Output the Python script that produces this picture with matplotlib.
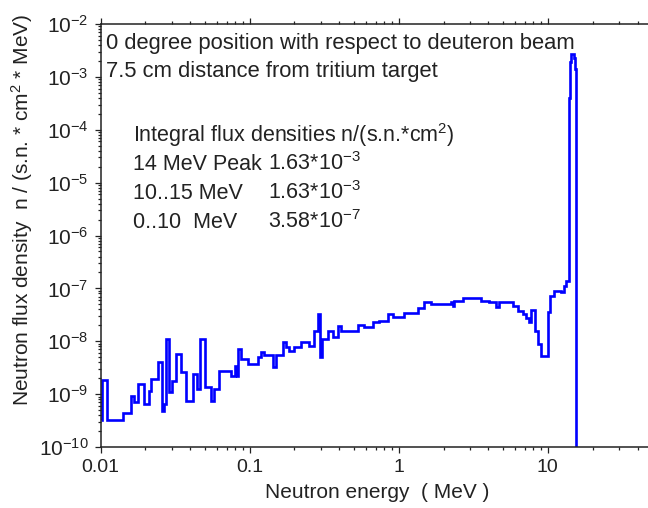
import numpy as np
import matplotlib
matplotlib.use('Agg')
import matplotlib.pyplot as plt
from matplotlib.ticker import FixedLocator, FixedFormatter, LogLocator, NullFormatter

plt.rcParams['font.family'] = ['Liberation Sans', 'DejaVu Sans']
plt.rcParams['mathtext.fontset'] = 'custom'
plt.rcParams['mathtext.rm'] = 'Liberation Sans'
plt.rcParams['mathtext.it'] = 'Liberation Sans:italic'
plt.rcParams['mathtext.bf'] = 'Liberation Sans:bold'

# --- bin edges (MeV) and flux per bin ---
energy_edges = [0.0101, 0.01031, 0.01114, 0.01405, 0.0159, 0.01666, 0.01771, 0.01944,
                0.0210, 0.02166, 0.02413, 0.02567, 0.02648, 0.02731, 0.02861, 0.02996,
                0.03188, 0.03443, 0.0372, 0.04145, 0.04409, 0.04618, 0.04989, 0.05474,
                0.05733, 0.06194, 0.07455, 0.07931, 0.0818, 0.08308, 0.08702, 0.09696,
                0.1132, 0.1185, 0.1242, 0.1427, 0.1495, 0.1665, 0.1744, 0.1827,
                0.1974, 0.2199, 0.2489, 0.2689, 0.2861, 0.2950, 0.3043, 0.3338,
                0.3606, 0.3897, 0.4081, 0.5306, 0.5823, 0.6693, 0.7343, 0.8438,
                0.9113, 1.080, 1.341, 1.472, 1.640, 2.234, 2.304, 2.340,
                2.689, 3.550, 4.018, 4.478, 4.690, 5.823, 6.290, 6.795,
                7.117, 7.455, 7.69, 8.18, 8.568, 8.975, 10.0, 10.31,
                10.97, 12.23, 12.81, 13.21, 13.83, 14.0, 14.3, 14.9, 15.25, 15.42, 15.6]

flux = [3.23e-10, 1.84e-9, 3.23e-10, 4.38e-10, 9.17e-10, 7.06e-10, 1.55e-9, 6.48e-10,
        1.14e-9, 1.92e-9, 4.02e-9, 4.78e-10, 6.48e-10, 1.09e-8, 1.09e-9, 1.76e-9,
        5.69e-9, 2.60e-9, 7.38e-10, 2.38e-9, 1.24e-9, 1.09e-8, 1.36e-9, 7.38e-10,
        1.24e-9, 2.72e-9, 2.19e-9, 3.37e-9, 2.19e-9, 7.06e-9, 4.57e-9, 3.68e-9,
        4.99e-9, 6.20e-9, 5.45e-9, 3.23e-9, 5.45e-9, 9.58e-9, 7.71e-9, 6.47e-9,
        7.71e-9, 9.58e-9, 8.05e-9, 1.55e-8, 3.23e-8, 4.99e-9, 1.09e-8, 1.55e-8,
        1.19e-8, 1.92e-8, 1.55e-8, 2.00e-8, 1.84e-8, 2.28e-8, 2.38e-8, 3.23e-8,
        2.84e-8, 3.37e-8, 4.19e-8, 5.45e-8, 4.99e-8, 5.45e-8, 4.57e-8, 5.69e-8,
        6.48e-8, 5.69e-8, 5.45e-8, 4.38e-8, 5.45e-8, 4.57e-8, 3.68e-8, 3.23e-8,
        2.72e-8, 2.28e-8, 3.85e-8, 1.55e-8, 8.77e-9, 5.21e-9, 3.52e-8, 7.06e-8,
        8.77e-8, 8.41e-8, 1.09e-7, 1.36e-7, 4.0e-4, 1.9e-3, 2.7e-3, 2.3e-3, 1.4e-3, 1e-12]

x_tick_vals = [0.01, 0.1, 1, 10]
x_tick_labels = ['0.01', '0.1', '1', '10']

header_lines = ['0 degree position with respect to deuteron beam',
                '7.5 cm distance from tritium target']
integral_title = r'Integral flux densities n/(s.n.*cm$^2$)'
range_names = ['14 MeV Peak', '10..15 MeV', '0..10  MeV']
range_values = [r'1.63*10$^{-3}$', r'1.63*10$^{-3}$', r'3.58*10$^{-7}$']

W, H = 648, 508
fig = plt.figure(figsize=(W / 100, H / 100), dpi=100, facecolor='white')
# axes right spine sits just past the picture edge, like in the original
ax = fig.add_axes([100.5 / W, 61 / H, 551.5 / W, 423 / H])

ax.stairs(flux, energy_edges, color='#0000ff', linewidth=1.9, baseline=None)

ax.set_xscale('log')
ax.set_yscale('log')
ax.set_xlim(0.01, 50)
ax.set_ylim(1e-10, 1e-2)

ax.xaxis.set_major_locator(FixedLocator(x_tick_vals))
ax.xaxis.set_major_formatter(FixedFormatter(x_tick_labels))
ax.xaxis.set_minor_locator(LogLocator(base=10, subs=np.arange(2, 10), numticks=20))
ax.xaxis.set_minor_formatter(NullFormatter())
ax.yaxis.set_major_locator(LogLocator(base=10, numticks=20))
ax.yaxis.set_minor_locator(LogLocator(base=10, subs=np.arange(2, 10), numticks=20))
ax.yaxis.set_minor_formatter(NullFormatter())

ax.tick_params(which='both', direction='out', top=True, right=True, color='#222222', width=0.9)
ax.tick_params(which='major', length=4.5)
ax.tick_params(which='minor', length=2.3)
ax.tick_params(axis='x', which='major', labelsize=14, pad=4.5, labelcolor='#222222')
ax.tick_params(axis='y', which='major', labelsize=15, pad=4, labelcolor='#222222')
for s in ax.spines.values():
    s.set_linewidth(1.1)
    s.set_color('#222222')

# axis titles
fig.text(377 / W, 1 - 492 / H, 'Neutron energy  ( MeV )', fontsize=15,
         ha='center', va='center', color='#222222')
fig.text(22 / W, 1 - 210 / H, r'Neutron flux density  n / (s.n. * cm$^2$ * MeV)',
         fontsize=15, rotation=90, ha='center', va='center', color='#222222')

# annotation block
for i, line in enumerate(header_lines):
    fig.text(106 / W, 1 - (49 + 28 * i) / H, line, fontsize=15.8,
             ha='left', va='baseline', color='#222222')
fig.text(133 / W, 1 - 142 / H, integral_title, fontsize=15.5,
         ha='left', va='baseline', color='#222222')
for i, (name, val) in enumerate(zip(range_names, range_values)):
    yb = 1 - (170 + 29 * i) / H
    fig.text(133 / W, yb, name, fontsize=15.5, ha='left', va='baseline', color='#222222')
    fig.text(268 / W, yb, val, fontsize=15.5, ha='left', va='baseline', color='#222222')

fig.savefig('out.png', dpi=100)
plt.close(fig)
